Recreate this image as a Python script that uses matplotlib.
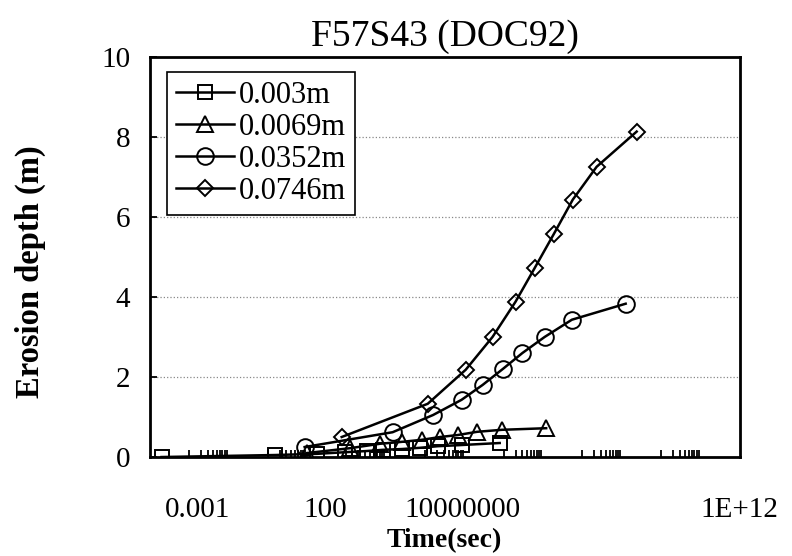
import matplotlib
matplotlib.use('Agg')
import matplotlib.pyplot as plt
import numpy as np

plt.rcParams['font.family'] = ['Liberation Serif', 'DejaVu Serif']

# time (sec) and erosion depth (m) for each grain size
t_003 = [0.002, 1.5, 18, 91, 330, 840, 2.6e3, 7.3e3, 2.1e4, 8.5e4, 7.9e5]
d_003 = [0.0, 0.05, 0.08, 0.12, 0.15, 0.18, 0.2, 0.23, 0.27, 0.3, 0.35]

t_0069 = [10, 122, 700, 2.6e3, 8.2e3, 2.4e4, 6.8e4, 2.1e5, 8.9e5, 1.2e7]
d_0069 = [0.1, 0.22, 0.33, 0.38, 0.43, 0.5, 0.55, 0.63, 0.68, 0.72]

t_0352 = [8.7, 1.5e3, 1.6e4, 8.5e4, 2.9e5, 9.5e5, 3.0e6, 1.1e7, 5.4e7, 1.26e9]
d_0352 = [0.25, 0.62, 1.05, 1.43, 1.8, 2.2, 2.6, 3.0, 3.43, 3.83]

t_0746 = [76, 1.17e4, 1.08e5, 5.2e5, 2.0e6, 6.2e6, 1.9e7, 5.7e7, 2.3e8, 2.4e9]
d_0746 = [0.5, 1.33, 2.18, 3.0, 3.88, 4.73, 5.58, 6.43, 7.25, 8.13]

labels = ['0.003m', '0.0069m', '0.0352m', '0.0746m']
xlabels = ['0.001', '100', '10000000', '1E+12']

fig = plt.figure(figsize=(7.92, 5.56), dpi=100)
ax = fig.add_axes([0.189, 0.178, 0.745, 0.72])

ax.plot(t_003, d_003, '-', color='k', lw=1.8, marker='s', ms=10, mfc='none', mec='k', mew=1.4, label=labels[0])
ax.plot(t_0069, d_0069, '-', color='k', lw=1.8, marker='^', ms=11, mfc='none', mec='k', mew=1.4, label=labels[1])
ax.plot(t_0352, d_0352, '-', color='k', lw=1.8, marker='o', ms=12, mfc='none', mec='k', mew=1.4, label=labels[2])
ax.plot(t_0746, d_0746, '-', color='k', lw=1.8, marker='D', ms=8.5, mfc='none', mec='k', mew=1.4, label=labels[3])

ax.set_xscale('log')
ax.set_xlim(1e-3, 1e12)
ax.set_ylim(0, 10)

# minor ticks every other decade, no major marks
ax.set_xticks([], minor=False)
minor = [m * 10.0 ** e for e in range(-2, 11, 2) for m in range(1, 10)]
ax.set_xticks(minor, minor=True)
ax.set_xticklabels([], minor=True)
ax.tick_params(axis='x', which='minor', direction='in', length=5, width=1.3)

for lab, fx in zip(xlabels, [0.081, 0.297, 0.531, 1.0]):
    ax.text(fx, -0.132, lab, transform=ax.transAxes, ha='center', va='center', fontsize=21)

ax.set_yticks(np.arange(0, 11, 2))
ax.tick_params(axis='y', direction='in', length=5, width=1.3, labelsize=21, pad=14)
ax.yaxis.grid(True, linestyle=':', color='#888888', lw=0.9)

for s in ax.spines.values():
    s.set_linewidth(2)

ax.set_title('F57S43 (DOC92)', fontsize=27, pad=8)
ax.set_xlabel('Time(sec)', fontsize=20, fontweight='bold', labelpad=48)
ax.set_ylabel('Erosion depth (m)', fontsize=23.5, fontweight='bold')
ax.yaxis.set_label_coords(-0.175, 0.4625)

leg = ax.legend(loc='upper left', bbox_to_anchor=(0.029, 0.9625), borderaxespad=0,
                fontsize=22, handlelength=1.9, handletextpad=0.15, labelspacing=0.1,
                fancybox=False, edgecolor='k', framealpha=1, borderpad=0.3)
leg.get_frame().set_linewidth(1.2)

fig.savefig('out.png', dpi=100)
